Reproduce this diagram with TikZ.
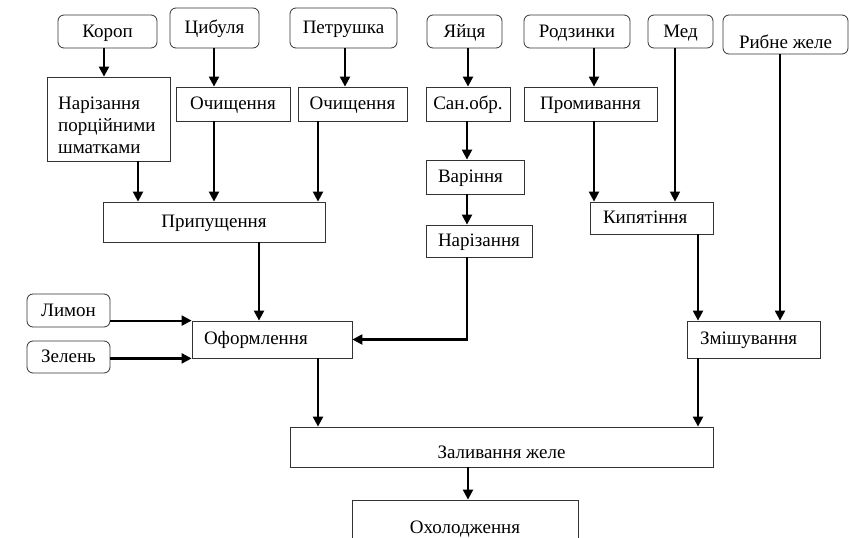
\documentclass[tikz,border=0pt]{standalone}
\usepackage{fontspec}
\setmainfont{Liberation Serif}
\usetikzlibrary{arrows.meta}
\begin{document}
\begin{tikzpicture}[x=1pt,y=-1pt,
  box/.style={draw=black!80, line width=0.8pt, inner sep=0pt,
    font=\fontsize{19}{22}\selectfont, text height=15pt, text depth=4pt},
  src/.style={box, rounded corners=6pt},
  lbox/.style={box, align=left},
  txt/.style={inner sep=0pt, font=\fontsize{19}{22}\selectfont},
  arr/.style={line width=2.2pt, -{Triangle[length=10pt,width=10pt]}},
  tarr/.style={line width=1.5pt, -{Triangle[length=10pt,width=10pt]}}]
\useasboundingbox (0,0) rectangle (849,538);
\fill[white] (0,0) rectangle (849,538);
% sources
\node[src, minimum width=99pt, minimum height=33pt] (korop) at (107.5,31.5) {Короп};
\node[src, minimum width=89pt, minimum height=40pt] (cyb) at (214.5,28) {Цибуля};
\node[src, minimum width=107pt, minimum height=40pt] (petr) at (343.5,28) {Петрушка};
\node[src, minimum width=75pt, minimum height=33pt] (yaj) at (464.5,31.5) {Яйця};
\node[src, minimum width=106pt, minimum height=33pt] (rodz) at (577,31.5) {Родзинки};
\node[src, minimum width=65pt, minimum height=33pt] (med) at (680.5,31.5) {Мед};
\node[src, minimum width=125pt, minimum height=39pt, text height=32pt] (ryb) at (785.5,34.5) {Рибне желе};
\node[src, minimum width=83pt, minimum height=33pt] (lim) at (68.5,310.5) {Лимон};
\node[src, minimum width=83pt, minimum height=32pt] (zel) at (68.5,357) {Зелень};
% processes
\node[box, minimum width=123pt, minimum height=84pt] (narpor) at (108.5,119) {};
\node[txt, align=left, anchor=west] (narport) at (58,125) {Нарізання\\порційними\\шматками};
\node[box, minimum width=114pt, minimum height=34pt] (och1) at (233,104) {Очищення};
\node[box, minimum width=109pt, minimum height=34pt] (och2) at (352.5,104) {Очищення};
\node[box, minimum width=84pt, minimum height=34pt] (san) at (468,104) {Сан.обр.};
\node[box, minimum width=133pt, minimum height=34pt] (prom) at (590.5,104) {Промивання};
\node[lbox, minimum width=98pt, minimum height=34pt, inner xsep=12pt, text width=74pt] (var) at (475,177) {Варіння};
\node[box, minimum width=106pt, minimum height=32pt] (nar2) at (479,241) {Нарізання};
\node[box, minimum width=222pt, minimum height=40pt] (prip) at (214,222) {Припущення};
\node[lbox, minimum width=123pt, minimum height=32pt, inner xsep=13pt, text width=97pt] (kyp) at (651.5,218) {Кипятіння};
\node[lbox, minimum width=160pt, minimum height=37pt, inner xsep=12pt, text width=136pt, text height=13pt] (ofo) at (272,339.5) {Оформлення};
\node[lbox, minimum width=133pt, minimum height=37pt, inner xsep=13pt, text width=107pt, text height=13pt] (zmish) at (753.5,339.5) {Змішування};
\node[box, minimum width=423pt, minimum height=40pt, text height=27pt] (zal) at (501.5,447) {Заливання желе};
\node[box, minimum width=226pt, minimum height=55pt] (ohol) at (465,527.5) {Охолодження};
% connectors
\draw[arr] ([xshift=-3.5]korop.south) -- ([xshift=-4.5]narpor.north);
\draw[arr] ([xshift=-0.5]cyb.south) -- ([xshift=-19]och1.north);
\draw[arr] ([xshift=1.5]petr.south) -- ([xshift=-7.5]och2.north);
\draw[arr] ([xshift=29.5]narpor.south) -- ([xshift=-76]prip.north);
\draw[arr] ([xshift=-19]och1.south) -- ([xshift=0]prip.north);
\draw[arr] ([xshift=-34.5]och2.south) -- ([xshift=104]prip.north);
\draw[arr] ([xshift=45]prip.south) -- ([xshift=-13]ofo.north);
\draw[arr] ([xshift=3.5]yaj.south) -- ([xshift=0]san.north);
\draw[arr] ([xshift=-1]san.south) -- ([xshift=-8]var.north);
\draw[arr] ([xshift=-8]var.south) -- ([xshift=-12]nar2.north);
\draw[arr] ([xshift=-12]nar2.south) |- (ofo.east);
\draw[arr] ([xshift=17]rodz.south) -- ([xshift=3.5]prom.north);
\draw[arr] ([xshift=3.5]prom.south) -- ([xshift=-57.5]kyp.north);
\draw[tarr] ([xshift=-5.5]med.south) -- ([xshift=23.5]kyp.north);
\draw[arr] ([xshift=46.5]kyp.south) -- ([xshift=-55.5]zmish.north);
\draw[arr] ([xshift=-5.5]ryb.south) -- ([xshift=26.5]zmish.north);
\draw[arr] (lim.east |- ofo.north west) -- (ofo.north west);
\draw[arr] (zel.east |- ofo.south west) -- (ofo.south west);
\draw[arr] ([xshift=46]ofo.south) -- ([xshift=-183.5]zal.north);
\draw[arr] ([xshift=-55.5]zmish.south) -- ([xshift=196.5]zal.north);
\draw[arr] ([xshift=-33.5]zal.south) -- ([xshift=3]ohol.north);
\end{tikzpicture}
\end{document}
